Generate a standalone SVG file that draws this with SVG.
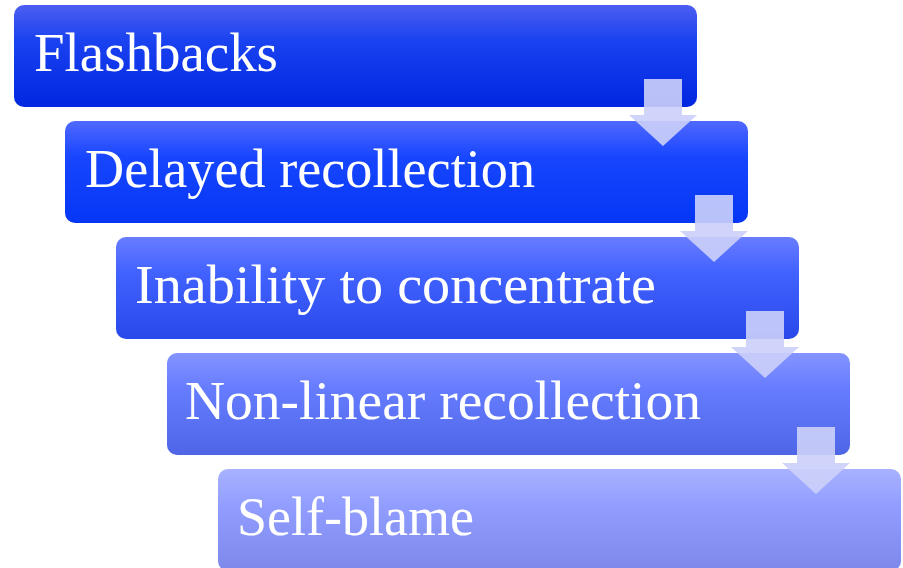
<svg xmlns="http://www.w3.org/2000/svg" width="903" height="568" viewBox="0 0 903 568">
  <style>
    .label { font-family: "Liberation Serif", "Times New Roman", serif; font-size: 55px; fill: #ffffff; }
    .step { stroke: none; }
    .arrow { fill: #cbd0f9; fill-opacity: 0.91; }
  </style>
  <defs>
    <linearGradient id="g1" x1="0" y1="0" x2="0" y2="1">
      <stop offset="0" stop-color="#4c5ef0"/>
      <stop offset="0.35" stop-color="#1a42f0"/>
      <stop offset="1" stop-color="#0026e0"/>
    </linearGradient>
    <linearGradient id="g2" x1="0" y1="0" x2="0" y2="1">
      <stop offset="0" stop-color="#5068ff"/>
      <stop offset="0.35" stop-color="#1846ff"/>
      <stop offset="1" stop-color="#0436f4"/>
    </linearGradient>
    <linearGradient id="g3" x1="0" y1="0" x2="0" y2="1">
      <stop offset="0" stop-color="#687cff"/>
      <stop offset="0.35" stop-color="#4262ff"/>
      <stop offset="1" stop-color="#2848ea"/>
    </linearGradient>
    <linearGradient id="g4" x1="0" y1="0" x2="0" y2="1">
      <stop offset="0" stop-color="#8494ff"/>
      <stop offset="0.35" stop-color="#667cff"/>
      <stop offset="1" stop-color="#4e66e6"/>
    </linearGradient>
    <linearGradient id="g5" x1="0" y1="0" x2="0" y2="1">
      <stop offset="0" stop-color="#a8b2ff"/>
      <stop offset="0.35" stop-color="#929eff"/>
      <stop offset="1" stop-color="#7c88ea"/>
    </linearGradient>
    <path id="downArrow" d="M -19 0 H 19 V 36 H 34 L 0 67 L -34 36 H -19 Z"/>
  </defs>

  <g id="step-flashbacks">
    <rect class="step" x="14" y="5" width="683" height="102" rx="10" fill="url(#g1)"/>
    <text class="label" x="34" y="71" textLength="244" lengthAdjust="spacingAndGlyphs">Flashbacks</text>
  </g>
  <g id="step-delayed">
    <rect class="step" x="65" y="121" width="683" height="102" rx="10" fill="url(#g2)"/>
    <text class="label" x="85" y="187" textLength="450" lengthAdjust="spacingAndGlyphs">Delayed recollection</text>
  </g>
  <g id="step-inability">
    <rect class="step" x="116" y="237" width="683" height="102" rx="10" fill="url(#g3)"/>
    <text class="label" x="135" y="303" textLength="521" lengthAdjust="spacingAndGlyphs">Inability to concentrate</text>
  </g>
  <g id="step-nonlinear">
    <rect class="step" x="167" y="353" width="683" height="102" rx="10" fill="url(#g4)"/>
    <text class="label" x="185" y="419" textLength="516" lengthAdjust="spacingAndGlyphs">Non-linear recollection</text>
  </g>
  <g id="step-selfblame">
    <rect class="step" x="218" y="469" width="683" height="102" rx="10" fill="url(#g5)"/>
    <text class="label" x="237" y="535" textLength="237" lengthAdjust="spacingAndGlyphs">Self-blame</text>
  </g>

  <g id="connectors">
    <use href="#downArrow" class="arrow" x="663" y="79"/>
    <use href="#downArrow" class="arrow" x="714" y="195"/>
    <use href="#downArrow" class="arrow" x="765" y="311"/>
    <use href="#downArrow" class="arrow" x="816" y="427"/>
  </g>
</svg>
